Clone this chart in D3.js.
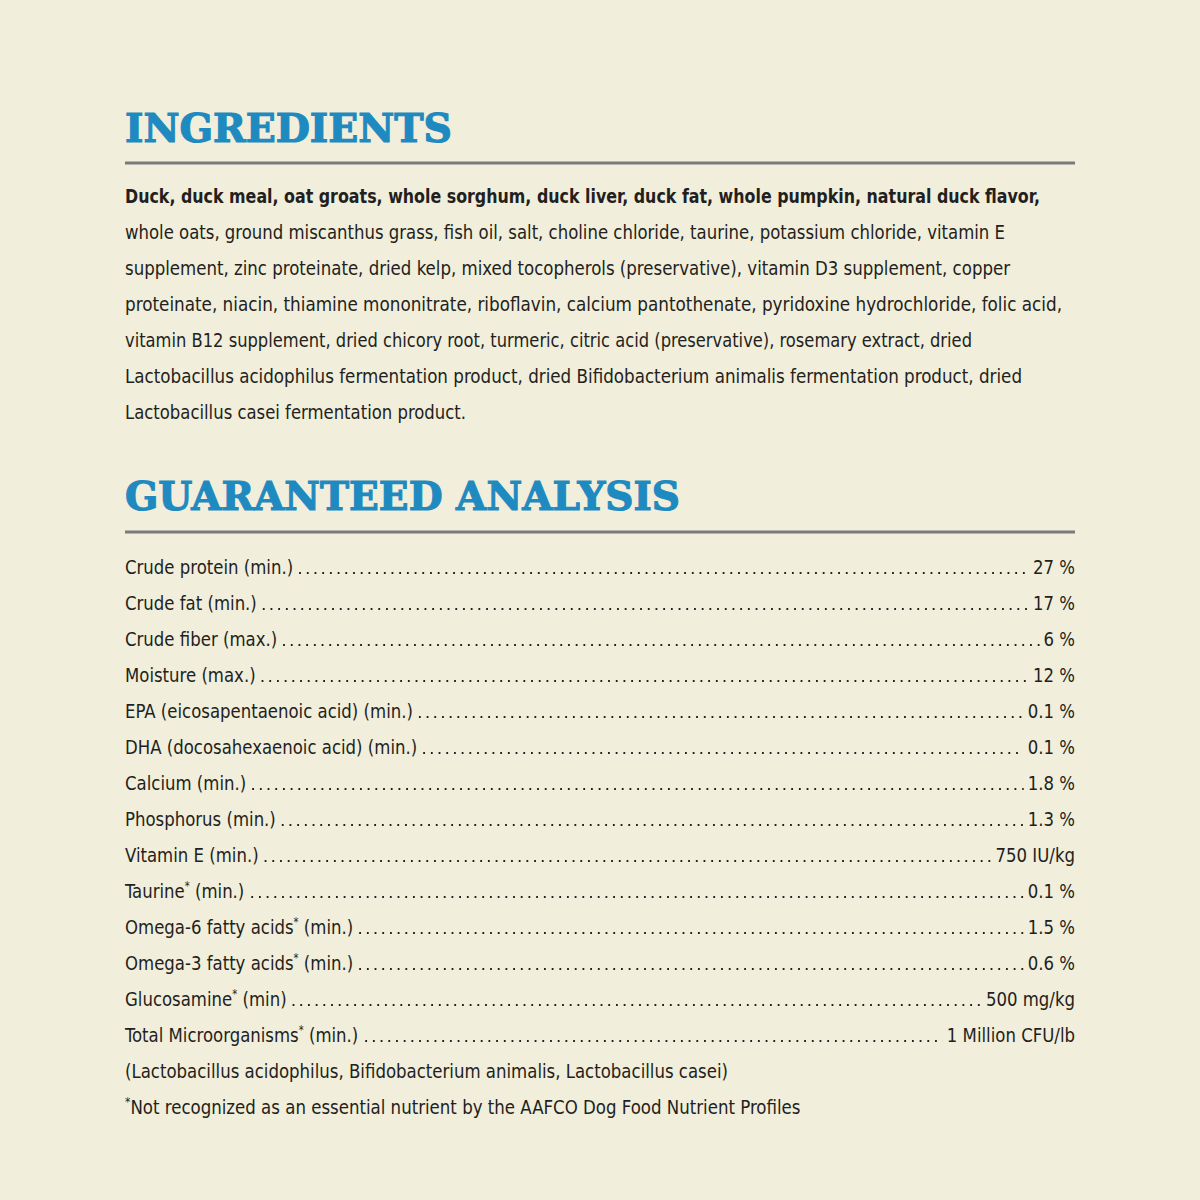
<!DOCTYPE html>
<html><head><meta charset="utf-8">
<script src="https://cdn.jsdelivr.net/npm/d3@7"></script>
<style>body{margin:0;background:#f1eedb}</style></head>
<body><script>
const titles = ["INGREDIENTS", "GUARANTEED ANALYSIS"];
const ingredientLines = [
 "Duck, duck meal, oat groats, whole sorghum, duck liver, duck fat, whole pumpkin, natural duck flavor,",
 "whole oats, ground miscanthus grass, fish oil, salt, choline chloride, taurine, potassium chloride, vitamin E",
 "supplement, zinc proteinate, dried kelp, mixed tocopherols (preservative), vitamin D3 supplement, copper",
 "proteinate, niacin, thiamine mononitrate, riboflavin, calcium pantothenate, pyridoxine hydrochloride, folic acid,",
 "vitamin B12 supplement, dried chicory root, turmeric, citric acid (preservative), rosemary extract, dried",
 "Lactobacillus acidophilus fermentation product, dried Bifidobacterium animalis fermentation product, dried",
 "Lactobacillus casei fermentation product."
];
const lineEnds = [1040, 1005, 1010, 1062, 972, 1022, 466];
const labels = ["Crude protein (min.)","Crude fat (min.)","Crude fiber (max.)","Moisture (max.)",
 "EPA (eicosapentaenoic acid) (min.)","DHA (docosahexaenoic acid) (min.)","Calcium (min.)","Phosphorus (min.)",
 "Vitamin E (min.)","Taurine* (min.)","Omega-6 fatty acids* (min.)","Omega-3 fatty acids* (min.)",
 "Glucosamine* (min)","Total Microorganisms* (min.)"];
const values = ["27 %","17 %","6 %","12 %","0.1 %","0.1 %","1.8 %","1.3 %","750 IU/kg","0.1 %","1.5 %","0.6 %","500 mg/kg","1 Million CFU/lb"];
const notes = ["(Lactobacillus acidophilus, Bifidobacterium animalis, Lactobacillus casei)",
 "*Not recognized as an essential nutrient by the AAFCO Dog Food Nutrient Profiles"];
const noteEnds = [728, 800];

const svg = d3.select("body").append("svg").attr("width",1200).attr("height",1200);
svg.append("rect").attr("width",1200).attr("height",1200).attr("fill","#f1eedb");
const font = "'Liberation Sans Narrow','DejaVu Sans Condensed',sans-serif";
const ink = "#231f20";
const L = 125, R = 1075, SX = 0.92;

const titleY = [142, 510], titleEnd = [452, 680], ruleY = [163, 532];
titles.forEach((t,i)=>{
  svg.append("text").attr("x",L).attr("y",titleY[i]).text(t)
    .attr("font-family","'DejaVu Serif',serif").attr("font-weight","bold").attr("font-size",40)
    .attr("fill","#1f8ac0").attr("stroke","#1f8ac0").attr("stroke-width",1.2)
    .attr("textLength",titleEnd[i]-L).attr("lengthAdjust","spacingAndGlyphs");
  svg.append("line").attr("x1",L).attr("x2",R).attr("y1",ruleY[i]).attr("y2",ruleY[i])
    .attr("stroke","#7a7a7a").attr("stroke-width",3);
});

const yIng = d3.scaleLinear().domain([0,1]).range([203,239]);
svg.selectAll("text.ing").data(ingredientLines).join("text").attr("class","ing")
  .attr("x",L).attr("y",(d,i)=>yIng(i)).text(d=>d)
  .attr("font-family",font).attr("font-size",20).attr("fill",ink)
  .attr("font-weight",(d,i)=>i===0?"bold":"normal")
  .attr("textLength",(d,i)=>lineEnds[i]-L).attr("lengthAdjust","spacingAndGlyphs");

function scaled(x, y, anchor){
  const g = svg.append("g").attr("transform",`translate(${x},${y}) scale(${SX},1)`);
  return g.append("text").attr("x",0).attr("y",0).attr("text-anchor",anchor||"start")
    .attr("font-family",font).attr("font-size",20).attr("fill",ink);
}
const yRow = d3.scaleLinear().domain([0,1]).range([574,610]);
labels.forEach((lab,i)=>{
  const y = yRow(i);
  const t = scaled(L, y);
  const parts = lab.split("*");
  t.append("tspan").text(parts[0]);
  if(parts.length>1){ t.append("tspan").text("*").attr("font-size",12).attr("dy",-8);
    t.append("tspan").text(parts[1]).attr("dy",8); }
  const v = scaled(R, y, "end").text(values[i]);
  const lw = t.node().getBBox().width*SX, vw = v.node().getBBox().width*SX;
  const x1 = L+lw+6, x2 = R-vw-4;
  svg.append("line").attr("x1",x1).attr("x2",x2).attr("y1",y-1).attr("y2",y-1)
    .attr("stroke",ink).attr("stroke-width",2).attr("stroke-dasharray","1.8,5.9");
});
notes.forEach((n,i)=>{
  const t = svg.append("text").attr("x",L).attr("y",yRow(14+i)).attr("font-family",font).attr("font-size",20).attr("fill",ink);
  if(n.startsWith("*")){ t.append("tspan").text("*").attr("font-size",12).attr("dy",-8);
    t.append("tspan").text(n.slice(1)).attr("dy",8)
      .attr("textLength",noteEnds[i]-L-5).attr("lengthAdjust","spacingAndGlyphs"); }
  else t.text(n).attr("textLength",noteEnds[i]-L).attr("lengthAdjust","spacingAndGlyphs");
});
</script></body></html>
